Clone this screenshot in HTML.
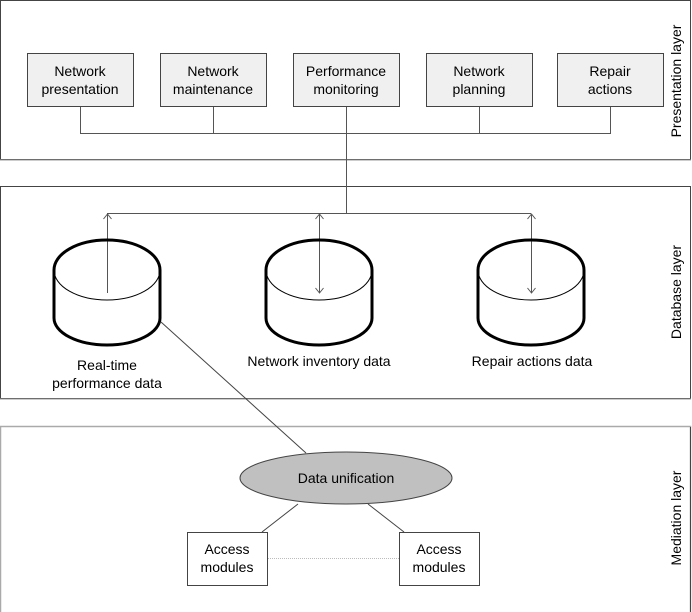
<!DOCTYPE html>
<html><head><style>
html,body{margin:0;padding:0;background:#fff;}
svg{display:block;}
text{font-family:"Liberation Sans",Arial,sans-serif;font-size:14px;fill:#000;}
</style></head><body>
<svg width="692" height="612" viewBox="0 0 692 612" xmlns="http://www.w3.org/2000/svg">
<!-- panels -->
<rect x="0.5" y="0.5" width="690" height="159" fill="none" stroke="#444" stroke-width="1"/>
<line x1="0" y1="160" x2="691" y2="160" stroke="#999"/>
<rect x="0.5" y="186.5" width="690" height="212" fill="none" stroke="#444" stroke-width="1"/>
<line x1="0" y1="399" x2="691" y2="399" stroke="#999"/>
<path d="M0.5,612 V426.5 H690.5 V612" fill="none" stroke="#aaa" stroke-width="1.5"/>
<line x1="690.5" y1="427" x2="690.5" y2="612" stroke="#444"/>

<!-- presentation boxes -->
<g fill="#f0f0f0" stroke="#444" stroke-width="1">
<rect x="27.5" y="53.5" width="106" height="53"/>
<rect x="160.5" y="53.5" width="106" height="53"/>
<rect x="293.5" y="53.5" width="106" height="53"/>
<rect x="426.5" y="53.5" width="106" height="53"/>
<rect x="557.5" y="53.5" width="106" height="53"/>
</g>
<g text-anchor="middle">
<text x="80" y="76">Network</text><text x="80" y="94">presentation</text>
<text x="213" y="76">Network</text><text x="213" y="94">maintenance</text>
<text x="346" y="76">Performance</text><text x="346" y="94">monitoring</text>
<text x="479" y="76">Network</text><text x="479" y="94">planning</text>
<text x="610" y="76">Repair</text><text x="610" y="94">actions</text>
</g>
<g stroke="#555" stroke-width="1" fill="none">
<path d="M80.5,107 V133.5 H610.5 V107"/>
<line x1="213.5" y1="107" x2="213.5" y2="133"/>
<line x1="479.5" y1="107" x2="479.5" y2="133"/>
<line x1="346.5" y1="107" x2="346.5" y2="213"/>
<line x1="107" y1="213.5" x2="531" y2="213.5"/>
<line x1="107.5" y1="293" x2="107.5" y2="214"/>
<line x1="319.5" y1="214" x2="319.5" y2="293"/>
<line x1="531.5" y1="214" x2="531.5" y2="293"/>
<path d="M103.5,219 L107.5,214 L111.5,219"/>
<path d="M315.5,219 L319.5,214 L323.5,219"/>
<path d="M315.5,288 L319.5,293 L323.5,288"/>
<path d="M527.5,219 L531.5,214 L535.5,219"/>
<path d="M527.5,288 L531.5,293 L535.5,288"/>
</g>

<!-- cylinders -->
<g fill="none" stroke="#000">
<g transform="translate(107,0)">
<path d="M-53,270 V318 A53,27 0 0 0 53,318 V270" stroke-width="3"/>
<path d="M-53,270 A53,30 0 0 1 53,270" stroke-width="3"/>
<path d="M-53,270 A53,30 0 0 0 53,270" stroke-width="1"/>
</g>
<g transform="translate(319,0)">
<path d="M-53,270 V318 A53,27 0 0 0 53,318 V270" stroke-width="3"/>
<path d="M-53,270 A53,30 0 0 1 53,270" stroke-width="3"/>
<path d="M-53,270 A53,30 0 0 0 53,270" stroke-width="1"/>
</g>
<g transform="translate(531,0)">
<path d="M-53,270 V318 A53,27 0 0 0 53,318 V270" stroke-width="3"/>
<path d="M-53,270 A53,30 0 0 1 53,270" stroke-width="3"/>
<path d="M-53,270 A53,30 0 0 0 53,270" stroke-width="1"/>
</g>
</g>
<g text-anchor="middle">
<text x="107" y="370">Real-time</text><text x="107" y="388">performance data</text>
<text x="319" y="366">Network inventory data</text>
<text x="532" y="366">Repair actions data</text>
</g>
<line x1="161" y1="322" x2="306" y2="453" stroke="#444"/>

<!-- mediation -->
<ellipse cx="346" cy="478" rx="106" ry="26" fill="#c0c0c0" stroke="#444"/>
<text x="346" y="483" text-anchor="middle">Data unification</text>
<line x1="298" y1="504" x2="262" y2="532" stroke="#444"/>
<line x1="368" y1="504" x2="404" y2="532" stroke="#444"/>
<line x1="268" y1="558.5" x2="399" y2="558.5" stroke="#bbb" stroke-dasharray="1,1"/>
<rect x="187.5" y="532.5" width="80" height="53" fill="#fff" stroke="#444"/>
<rect x="399.5" y="532.5" width="80" height="53" fill="#fff" stroke="#444"/>
<g text-anchor="middle">
<text x="227" y="554">Access</text><text x="227" y="572">modules</text>
<text x="439" y="554">Access</text><text x="439" y="572">modules</text>
</g>

<!-- side labels -->
<g text-anchor="middle">
<text transform="translate(681,81) rotate(-90)">Presentation layer</text>
<text transform="translate(681,292) rotate(-90)">Database layer</text>
<text transform="translate(681,518) rotate(-90)">Mediation layer</text>
</g>
</svg>
</body></html>
